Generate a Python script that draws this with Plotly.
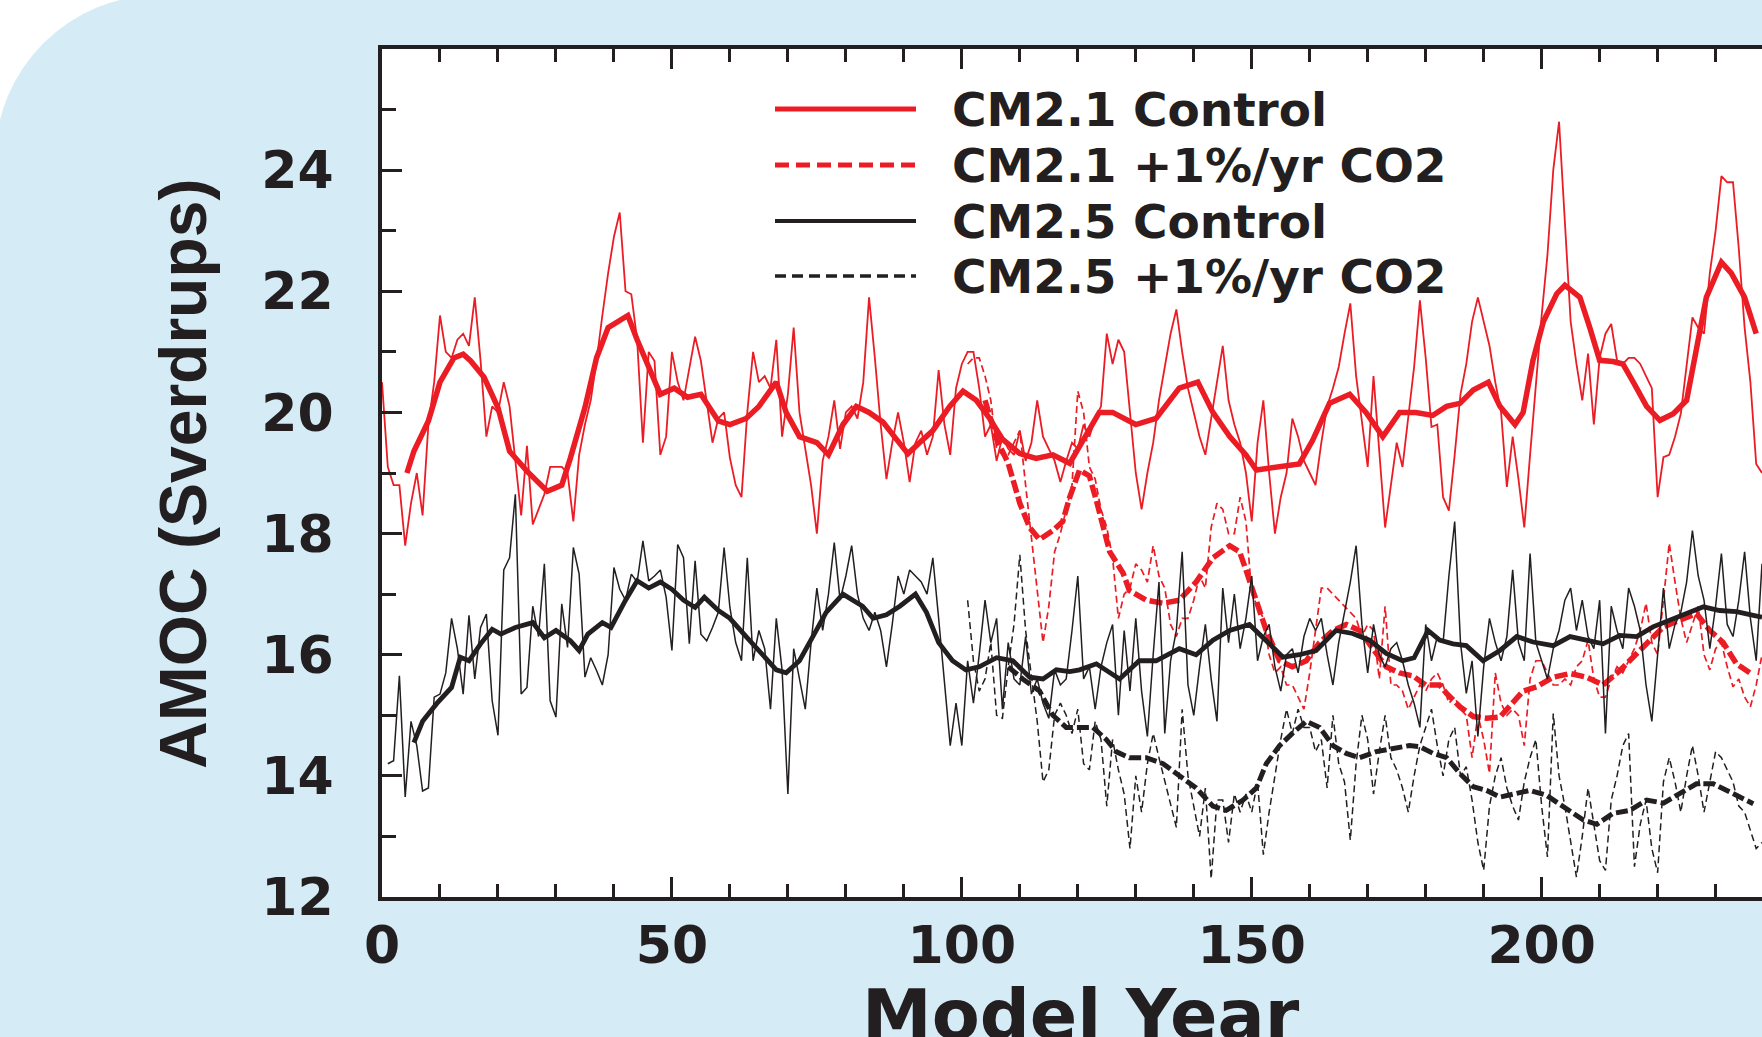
import plotly.graph_objects as go

RED = '#EC1C24'
BLACK = '#231F20'
BLUE_BG = '#D5ECF7'

# ---------------- data (Sverdrups) ----------------
# CM2.1 control, annual values, years 0..238
cm21_ctrl_first_year = 0
cm21_ctrl_annual = [
    20.5, 19.1, 18.8, 18.8, 17.8, 18.5, 19.0, 18.3, 19.8, 20.5,
    21.6, 21.0, 20.9, 21.2, 21.3, 21.1, 21.9, 20.85, 19.6, 20.1,
    20.0, 20.5, 20.1, 19.2, 18.3, 19.45, 18.15, 18.4, 18.65, 19.1,
    19.1, 19.1, 19.0, 18.2, 19.3, 19.8, 20.2, 20.85, 21.6, 22.3,
    22.9, 23.3, 22.0, 21.95, 21.2, 19.5, 21.0, 20.85, 19.3, 19.6,
    21.0, 20.5, 20.2, 20.7, 21.25, 20.85, 20.2, 19.5, 19.9, 20.0,
    19.25, 18.8, 18.6, 20.0, 21.0, 20.5, 20.6, 20.4, 21.2, 19.6,
    20.3, 21.4, 20.0, 19.4, 18.8, 18.0, 19.2, 19.6, 20.2, 19.4,
    20.0, 20.1, 19.9, 20.5, 21.9, 20.9, 19.8, 18.9, 19.5, 20.0,
    19.5, 18.85, 19.5, 19.7, 19.3, 19.6, 20.7, 19.8, 19.3, 20.4,
    20.8, 21.0, 21.0, 20.4, 19.6, 19.8, 19.2, 19.6, 19.4, 19.3,
    19.7, 19.2, 19.5, 20.2, 19.6, 19.4, 19.2, 18.85, 19.2, 19.5,
    19.4, 19.8, 19.6, 19.9, 20.1, 21.3, 20.8, 21.2, 21.0, 20.0,
    19.0, 18.4, 19.0, 19.5, 20.2, 20.75, 21.3, 21.7, 21.0, 20.4,
    20.0, 19.6, 19.3, 19.9, 20.5, 21.1, 20.2, 19.8, 19.5, 19.0,
    18.2, 19.5, 20.2, 19.0, 18.0, 18.6, 19.0, 19.9, 19.6, 19.2,
    19.0, 18.8, 19.5, 20.1, 20.4, 20.75, 21.3, 21.8, 20.6, 19.8,
    19.1, 20.6, 19.3, 18.1, 18.8, 19.5, 19.1, 19.9, 20.75, 21.85,
    20.9, 19.76, 19.8, 18.6, 18.38, 19.3, 20.3, 20.8, 21.5, 21.9,
    21.5, 21.1, 20.5, 20.0, 18.77, 19.6, 18.9, 18.1, 19.3, 20.5,
    21.6, 22.6, 24.0, 24.8, 23.2, 21.5, 20.8, 20.2, 20.97, 19.8,
    20.9, 21.3, 21.46, 20.86, 20.8, 20.9, 20.9, 20.8, 20.6, 20.4,
    18.6, 19.26, 19.3, 19.6, 19.98, 20.8, 21.57, 21.4, 21.3, 22.3,
    23.0, 23.9, 23.8, 23.8, 22.7, 21.4, 20.5, 19.15, 19.0,
]

# CM2.1 control, smoothed
cm21_ctrl_smooth_years = [
    4.3, 5.5, 8, 10, 12.4, 14, 15.3, 17.6, 20, 22, 25, 28.5, 31, 32.5, 35,
    37, 39, 40.6, 42.4, 44, 46, 48, 50.4, 52.7, 55, 58, 60, 62.8, 65, 68,
    69.7, 72, 75, 77, 79.5, 81.8, 84, 86.4, 88.7, 90.7, 92.7, 95, 97.9,
    100.2, 102.5, 104.8, 107, 110, 112.8, 115.7, 118.6, 121.4, 123.7, 126,
    130, 133.5, 137.5, 140.7, 143.3, 146.2, 149, 150.8, 154.8, 158.2, 160.5,
    163.4, 166.9, 169.7, 172.6, 175.5, 178.3, 181.2, 183.6, 185.9, 188.2,
    190.8, 192.8, 195.4, 196.8, 198.5, 200.3, 202.6, 204, 206.6, 208.3, 210,
    212.3, 214, 215.8, 218.1, 220.4, 222.7, 225, 226.7, 228.4, 231, 232.7,
    235, 237,
]
cm21_ctrl_smooth = [
    19.0, 19.36, 19.86, 20.5, 20.9, 20.96, 20.85, 20.58, 20.08, 19.36,
    19.03, 18.7, 18.8, 19.25, 20.08, 20.9, 21.4, 21.5, 21.6, 21.2,
    20.75, 20.3, 20.4, 20.25, 20.3, 19.86, 19.8, 19.9, 20.1, 20.5,
    20.0, 19.6, 19.5, 19.3, 19.8, 20.1, 20.0, 19.84, 19.56, 19.32,
    19.5, 19.7, 20.1, 20.35, 20.2, 19.9, 19.56, 19.32, 19.24, 19.3,
    19.16, 19.6, 20.0, 20.0, 19.8, 19.9, 20.4, 20.5, 20.0, 19.6,
    19.3, 19.05, 19.1, 19.15, 19.54, 20.15, 20.3, 20.0, 19.6, 20.0,
    20.0, 19.95, 20.1, 20.15, 20.37, 20.5, 20.1, 19.8, 20.0, 20.86,
    21.5, 21.96, 22.1, 21.9, 21.4, 20.86, 20.84, 20.8, 20.5, 20.1,
    19.87, 19.98, 20.2, 21.08, 21.9, 22.48, 22.3, 21.9, 21.3,
]

# CM2.1 +1%/yr CO2, annual values, years 101..238
cm21_co2_first_year = 101
cm21_co2_annual = [
    20.8, 20.9, 20.9, 20.6, 20.2, 19.4, 19.3, 19.3, 19.5, 19.7,
    18.8, 17.9, 17.0, 16.2, 16.8, 17.7, 18.0, 18.4, 18.8, 20.35,
    20.0, 19.1, 18.9, 18.4, 18.1, 17.6, 16.6, 17.0, 17.1, 17.5,
    17.4, 17.2, 17.8, 17.3, 17.1, 16.5, 16.3, 16.6, 16.6, 16.9,
    17.3, 17.1, 18.1, 18.5, 18.4, 18.0, 18.0, 18.6, 18.2, 17.0,
    16.8, 16.6, 16.0, 15.7, 15.8, 15.5, 15.5, 15.3, 15.1, 15.7,
    16.4, 17.1, 17.1, 17.0, 16.9, 16.8, 16.7, 16.6, 16.3, 16.5,
    16.4, 15.6, 16.8, 15.5, 15.5, 15.4, 15.1, 15.3, 15.5, 15.4,
    15.6, 15.7, 15.5, 15.2, 15.3, 15.1, 15.0, 14.3, 15.0, 14.6,
    14.04, 15.7, 15.2, 15.0, 15.1, 15.0, 14.5, 15.6, 15.9, 15.9,
    15.7, 15.5, 15.5, 15.6, 15.5, 15.8, 15.9, 16.24, 15.6, 15.3,
    15.3, 15.6, 15.8, 15.7, 15.9, 16.1, 16.4, 16.85, 16.2, 16.0,
    16.9, 17.84, 17.2, 16.6, 16.2, 16.5, 16.8, 16.0, 15.75, 16.1,
    16.2, 15.8, 15.47, 15.6, 15.3, 15.14, 15.5, 16.0,
]

# CM2.1 +1%/yr CO2, smoothed
cm21_co2_smooth_years = [
    104, 106, 108, 110, 111.7, 113.4, 115.7, 117.4, 118.6, 120.3, 122, 123.2,
    125.5, 127.8, 128.9, 131.8, 134.7, 137.5, 140.4, 143.3, 146.2, 147.9, 149,
    150.8, 152.5, 154.8, 157, 159.4, 161.7, 164, 166.3, 168.6, 170.9, 173.2,
    175.5, 177.8, 180, 182.4, 183.6, 185.9, 188.2, 190.5, 192.8, 194.5, 196.8,
    199.1, 202, 204.9, 207.7, 210.6, 213.5, 216.4, 218.7, 221, 223.8, 226.7,
    229, 231.3, 233.6, 235.9,
]
cm21_co2_smooth = [
    20.2, 19.56, 19.16, 18.5, 18.1, 17.9, 18.05, 18.2, 18.6, 19.05,
    18.95, 18.55, 17.7, 17.35, 17.06, 16.9, 16.85, 16.9, 17.2, 17.6,
    17.8, 17.7, 17.4, 16.85, 16.4, 15.9, 15.8, 15.9, 16.2, 16.4,
    16.5, 16.4, 16.1, 15.8, 15.7, 15.65, 15.5, 15.5, 15.36, 15.14,
    14.98, 14.95, 14.97, 15.14, 15.4, 15.47, 15.63, 15.69, 15.63, 15.5,
    15.74, 16.02, 16.24, 16.46, 16.57, 16.68, 16.4, 16.2, 15.85, 15.7,
]

# CM2.5 control, annual values, years 1..238
cm25_ctrl_first_year = 1
cm25_ctrl_annual = [
    14.2, 14.25, 15.65, 13.65, 14.9, 14.5, 13.75, 13.8, 15.3, 15.35,
    15.7, 16.6, 16.1, 15.35, 16.65, 15.6, 16.45, 16.67, 15.24, 14.67,
    17.4, 17.6, 18.65, 15.35, 15.46, 16.8, 16.3, 17.5, 15.24, 14.97,
    16.84, 16.12, 17.77, 17.33, 15.63, 15.95, 15.74, 15.5, 16.0, 17.44,
    17.08, 16.9, 17.33, 17.2, 17.88, 17.22, 17.3, 17.4, 16.95, 16.07,
    17.82, 17.6, 16.18, 17.55, 16.34, 16.23, 16.45, 16.7, 17.77, 16.78,
    16.2, 15.9, 17.6, 15.9, 16.4, 16.1, 15.1, 16.6, 15.75, 13.7,
    16.1, 15.6, 15.1, 16.2, 17.1, 16.4, 17.0, 17.85, 16.9, 17.3,
    17.8, 17.0, 16.6, 16.4, 16.7, 16.4, 15.8, 16.5, 17.3, 17.0,
    17.4, 17.3, 17.2, 17.0, 17.6, 16.6, 15.6, 14.5, 15.2, 14.5,
    15.9, 15.2, 16.0, 16.9, 16.2, 16.6, 15.1, 16.2, 15.6, 15.5,
    16.3, 15.35, 15.6, 15.2, 14.95, 15.75, 15.5, 15.6, 16.4, 17.3,
    15.6, 15.8, 15.1, 15.8, 16.2, 16.5, 15.0, 16.4, 15.4, 16.6,
    15.4, 14.65, 16.0, 17.2, 14.7, 15.9, 16.4, 17.7, 15.5, 15.0,
    15.8, 16.5, 15.6, 14.9, 17.1, 16.2, 17.0, 16.1, 16.6, 17.3,
    15.9, 16.3, 16.5, 15.8, 15.4, 16.0, 16.1, 15.7, 16.3, 16.6,
    16.4, 16.6, 16.0, 15.5, 16.2, 16.7, 17.2, 17.8, 16.5, 15.7,
    16.5, 16.0, 15.8, 16.1, 16.2, 15.9, 15.5, 15.2, 14.8, 16.5,
    15.9, 16.3, 16.2, 17.3, 18.2, 16.2, 15.36, 15.9, 14.65, 15.8,
    16.6, 16.2, 15.9, 16.3, 17.4, 16.2, 15.9, 17.67, 16.2, 15.9,
    15.6, 16.1, 16.4, 16.9, 17.1, 16.4, 16.9, 16.3, 16.1, 16.9,
    14.7, 16.8, 16.4, 16.1, 17.1, 16.8, 16.4, 15.5, 14.9, 16.0,
    17.1, 16.1, 16.5, 16.7, 17.2, 18.05, 17.3, 16.9, 16.1, 16.8,
    17.67, 16.5, 16.3, 16.9, 17.7, 16.6, 15.9, 17.5,
]

# CM2.5 control, smoothed
cm25_ctrl_smooth_years = [
    5.5, 7, 9.5, 12, 13.5, 15, 17, 19, 20.5, 23, 26, 28, 30, 32.5, 34, 35.5,
    38, 39.5, 42, 44, 46, 48, 50, 52, 54, 55.6, 58, 60, 62.8, 65.7, 68, 69.7,
    72, 74.3, 76.6, 79.5, 81.2, 82.9, 84.7, 87, 89.3, 92, 93.9, 96, 98.4,
    100.7, 103, 106, 108.8, 111.7, 114, 116.3, 118.6, 120.3, 123.2, 127.2,
    130.6, 133.5, 137.5, 140.4, 143.3, 146.2, 149.6, 152.5, 155.4, 158.2,
    161.1, 164.5, 167.4, 170.3, 173.2, 176, 178, 180.4, 182.4, 184.7, 187,
    189.9, 192.8, 195.7, 198.5, 202, 204.9, 207.7, 210.6, 213.5, 216.4, 219.2,
    222.1, 225, 227.9, 230.7, 233.6, 236.5, 238,
]
cm25_ctrl_smooth = [
    14.55, 14.9, 15.2, 15.46, 15.96, 15.9, 16.18, 16.42, 16.34, 16.45,
    16.53, 16.28, 16.4, 16.23, 16.07, 16.34, 16.53, 16.45, 16.9, 17.22,
    17.1, 17.2, 17.08, 16.9, 16.78, 16.95, 16.73, 16.6, 16.3, 16.0,
    15.75, 15.7, 15.9, 16.3, 16.7, 17.0, 16.9, 16.8, 16.6, 16.66,
    16.8, 17.0, 16.7, 16.2, 15.9, 15.75, 15.8, 15.95, 15.9, 15.63,
    15.6, 15.75, 15.72, 15.75, 15.85, 15.6, 15.9, 15.9, 16.1, 16.0,
    16.24, 16.4, 16.5, 16.24, 15.96, 16.0, 16.07, 16.4, 16.35, 16.24,
    16.02, 15.9, 15.95, 16.4, 16.24, 16.18, 16.15, 15.9, 16.07, 16.3,
    16.21, 16.15, 16.3, 16.24, 16.18, 16.32, 16.3, 16.46, 16.57, 16.68,
    16.79, 16.73, 16.71, 16.65, 16.62,
]

# CM2.5 +1%/yr CO2, annual values, years 101..238
cm25_co2_first_year = 101
cm25_co2_annual = [
    16.9, 15.9, 15.4, 15.6, 16.2, 15.0, 14.95, 15.8, 16.5, 17.65,
    16.4, 15.6, 14.9, 13.9, 14.1, 15.0, 15.2, 15.0, 14.7, 15.1,
    14.2, 14.1, 14.9, 14.6, 13.5, 14.6, 14.1, 13.7, 12.8, 14.0,
    13.4, 14.2, 14.7, 14.3, 13.9, 13.5, 13.15, 15.1, 14.0, 13.5,
    13.0, 13.8, 12.3, 13.6, 13.6, 12.9, 13.7, 13.4, 13.7, 13.4,
    13.9, 12.7, 13.4, 14.0, 14.6, 15.1, 14.7, 15.1, 14.8, 14.8,
    14.4, 14.6, 13.8, 15.0, 14.2, 13.9, 12.94, 14.2, 15.0, 14.6,
    13.7, 14.4, 15.0, 14.3, 14.1, 13.8, 13.4, 14.0, 14.5, 14.8,
    15.1, 14.5, 14.0, 14.6, 14.8, 14.0, 14.15, 13.6, 12.9, 12.44,
    13.5, 14.0, 14.3, 13.8, 13.5, 13.27, 13.9, 14.3, 14.6, 13.5,
    12.66, 15.03, 14.0, 13.5, 12.9, 12.33, 13.0, 13.8, 13.2, 12.6,
    12.44, 13.6, 14.0, 14.5, 14.7, 12.5, 13.2, 13.6, 12.8, 12.4,
    13.9, 14.3, 13.9, 13.4, 14.0, 14.5, 14.0, 13.4, 13.9, 14.4,
    14.3, 14.1, 13.9, 13.5, 13.4, 13.1, 12.8, 12.9,
]

# CM2.5 +1%/yr CO2, smoothed
cm25_co2_smooth_years = [
    108, 110.5, 113.4, 115.7, 118, 120.3, 122.6, 124.9, 126.6, 128.9, 131.8,
    134.7, 137.5, 140.4, 143.3, 145.6, 148.5, 150.8, 152.5, 154.8, 157, 159.4,
    161.7, 164, 166.3, 168.6, 171.5, 174, 177.2, 179, 181.3, 183.6, 185.9,
    188.2, 190.5, 192.8, 195.7, 198, 200.8, 203.7, 207.2, 209.5, 212.3,
    215.2, 218.1, 221, 223.8, 226.7, 229.6, 231.9, 234.2, 236.5,
]
cm25_co2_smooth = [
    15.8, 15.6, 15.4, 15.0, 14.8, 14.8, 14.8, 14.6, 14.4, 14.3,
    14.3, 14.2, 14.0, 13.8, 13.5, 13.43, 13.6, 13.8, 14.2, 14.5,
    14.7, 14.9, 14.8, 14.5, 14.37, 14.3, 14.4, 14.45, 14.5, 14.48,
    14.37, 14.3, 14.04, 13.82, 13.76, 13.65, 13.7, 13.76, 13.68, 13.49,
    13.27, 13.2, 13.38, 13.43, 13.6, 13.55, 13.71, 13.87, 13.87, 13.76,
    13.65, 13.54,
]

legend_labels = ['CM2.1 Control', 'CM2.1 +1%/yr CO2', 'CM2.5 Control', 'CM2.5 +1%/yr CO2']
x_tick_values = [0, 50, 100, 150, 200]
y_tick_values = [12, 14, 16, 18, 20, 22, 24]
x_range = [0, 238]
y_range = [12, 26]
x_title = 'Model Year'
y_title = 'AMOC (Sverdrups)'


def years_from(first, values):
    return list(range(first, first + len(values)))


# ---------------- layout geometry (pixels) ----------------
W, H = 1762, 1037
M_L, M_R, M_T, M_B = 382, 0, 49, 140
PW = W - M_L - M_R
PH = H - M_T - M_B


def px_to_paper_x(px):
    return (px - M_L) / PW


def px_to_paper_y(py):
    return (H - M_B - py) / PH


fig = go.Figure()

# traces: CO2 runs first, controls on top
series = [
    (years_from(cm21_co2_first_year, cm21_co2_annual), cm21_co2_annual, RED, 1.7, '7px,4px'),
    (years_from(cm25_co2_first_year, cm25_co2_annual), cm25_co2_annual, BLACK, 1.5, '7px,4px'),
    (cm21_co2_smooth_years, cm21_co2_smooth, RED, 5.5, '13px,4px'),
    (cm25_co2_smooth_years, cm25_co2_smooth, BLACK, 5.0, '12px,4px'),
    (years_from(cm21_ctrl_first_year, cm21_ctrl_annual), cm21_ctrl_annual, RED, 1.8, 'solid'),
    (cm21_ctrl_smooth_years, cm21_ctrl_smooth, RED, 5.5, 'solid'),
    (years_from(cm25_ctrl_first_year, cm25_ctrl_annual), cm25_ctrl_annual, BLACK, 1.5, 'solid'),
    (cm25_ctrl_smooth_years, cm25_ctrl_smooth, BLACK, 4.8, 'solid'),
]
for xs, ys, col, wid, dash in series:
    fig.add_trace(go.Scatter(
        x=xs, y=ys, mode='lines',
        line=dict(color=col, width=wid, dash=dash),
        showlegend=False, hoverinfo='skip',
    ))

tick_font = dict(family='DejaVu Sans', size=52, color=BLACK, weight='bold')

fig.update_layout(
    width=W, height=H,
    margin=dict(l=M_L, r=M_R, t=M_T, b=M_B, pad=0),
    paper_bgcolor=BLUE_BG,
    plot_bgcolor='white',
    showlegend=False,
    xaxis=dict(
        range=x_range, tickmode='array', tickvals=x_tick_values,
        ticks='inside', ticklen=20, tickwidth=3, tickcolor=BLACK,
        showline=True, linewidth=4, linecolor=BLACK, mirror='allticks',
        minor=dict(ticks='inside', ticklen=13, tickwidth=3, tickcolor=BLACK,
                   dtick=10, tick0=0, showgrid=False),
        showgrid=False, zeroline=False,
        tickfont=tick_font, ticklabelstandoff=0,
    ),
    yaxis=dict(
        range=y_range, tickmode='array', tickvals=y_tick_values,
        ticks='inside', ticklen=20, tickwidth=3, tickcolor=BLACK,
        showline=True, linewidth=4, linecolor=BLACK, mirror=False,
        minor=dict(ticks='inside', ticklen=14, tickwidth=3, tickcolor=BLACK,
                   dtick=1, tick0=12, showgrid=False),
        showgrid=False, zeroline=False,
        tickfont=tick_font, ticklabelstandoff=34,
    ),
    # right-hand tick marks only (the right frame line lies beyond the picture)
    yaxis2=dict(
        overlaying='y', anchor='x', side='right',
        range=y_range, tickmode='array', tickvals=y_tick_values,
        ticks='inside', ticklen=14, tickwidth=3, tickcolor=BLACK,
        showline=False, showticklabels=False,
        minor=dict(ticks='inside', ticklen=14, tickwidth=3, tickcolor=BLACK,
                   dtick=1, tick0=12, showgrid=False),
        showgrid=False, zeroline=False,
    ),
)

# rounded top-left corner of the blue panel
shapes = [
    dict(type='rect', xref='paper', yref='paper', layer='below',
         x0=px_to_paper_x(0), x1=px_to_paper_x(165),
         y0=px_to_paper_y(165), y1=px_to_paper_y(0),
         fillcolor='white', line=dict(width=0)),
    dict(type='circle', xref='paper', yref='paper', layer='below',
         x0=px_to_paper_x(-5), x1=px_to_paper_x(325),
         y0=px_to_paper_y(325), y1=px_to_paper_y(-5),
         fillcolor=BLUE_BG, line=dict(width=0)),
]

# manual legend
legend_rows_px = [109, 165, 221, 276]
legend_styles = [
    (RED, 5, 'solid'),
    (RED, 5, '14px,7px'),
    (BLACK, 4, 'solid'),
    (BLACK, 3.5, '11px,6px'),
]
annotations = []
for label, ypx, (col, wid, dash) in zip(legend_labels, legend_rows_px, legend_styles):
    yp = px_to_paper_y(ypx)
    shapes.append(dict(type='line', xref='paper', yref='paper',
                       x0=px_to_paper_x(775), x1=px_to_paper_x(916), y0=yp, y1=yp,
                       line=dict(color=col, width=wid, dash=dash)))
    annotations.append(dict(text=label, xref='paper', yref='paper',
                            x=px_to_paper_x(950), y=yp, xanchor='left', yanchor='middle',
                            showarrow=False,
                            font=dict(family='DejaVu Sans', size=47, color=BLACK, weight='bold')))

annotations.append(dict(text=x_title, xref='paper', yref='paper',
                        x=px_to_paper_x(1081), y=px_to_paper_y(972),
                        xanchor='center', yanchor='top', showarrow=False,
                        font=dict(family='DejaVu Sans', size=70, color=BLACK, weight='bold')))
annotations.append(dict(text=y_title, xref='paper', yref='paper',
                        x=px_to_paper_x(183), y=px_to_paper_y(474),
                        xanchor='center', yanchor='middle', textangle=-90, showarrow=False,
                        font=dict(family='Liberation Sans', size=66,
                                  color=BLACK, weight='bold')))

fig.update_layout(shapes=shapes, annotations=annotations)

fig.write_html(
    "out.html",
    config={'displayModeBar': False},
    post_script="document.body.style.margin='0';document.body.style.overflow='hidden';"
                "document.documentElement.style.overflow='hidden';",
)
